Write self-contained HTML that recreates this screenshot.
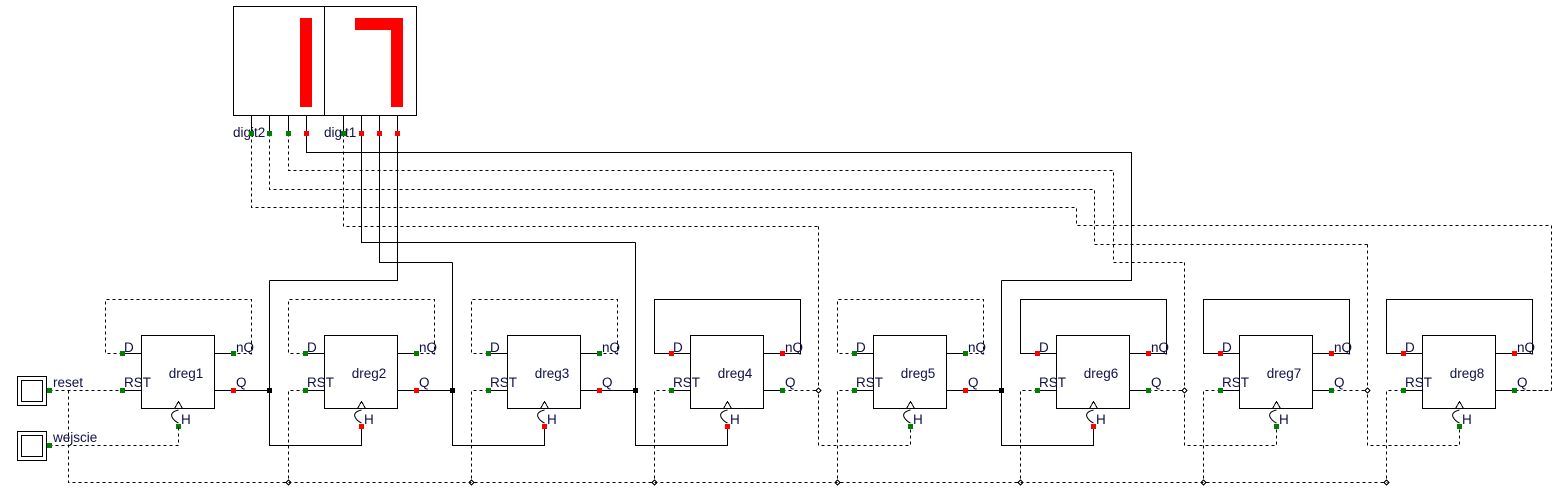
<!DOCTYPE html>
<html><head><meta charset="utf-8"><style>
html,body{margin:0;padding:0;background:#fff;}
svg{display:block;}
text{font-family:"Liberation Sans",sans-serif;font-size:13.5px;fill:#10104a;}
</style></head><body>
<svg id="s" width="1567" height="497" viewBox="0 0 1567 497" xmlns="http://www.w3.org/2000/svg">
<g id="g" fill="none" stroke="#000" stroke-width="1" shape-rendering="crispEdges"></g>
</svg>
<script>
(function(){
var g=document.getElementById('g');var NS="http://www.w3.org/2000/svg";
function el(t,a,txt){var e=document.createElementNS(NS,t);for(var k in a)e.setAttribute(k,a[k]);if(txt!==undefined)e.textContent=txt;g.appendChild(e);return e;}
function pl(pts,dash){var a={points:pts.map(function(p){return (p[0]+0.5)+','+(p[1]+0.5)}).join(' ')};if(dash)a['stroke-dasharray']='3,3';el('polyline',a);}
function pin(x,y,c){el('rect',{x:x-2,y:y-2,width:5,height:5,fill:c=='r'?'#ff0000':'#008000',stroke:'none'});}
function tx(x,y,s,anchor){var e=el('text',{x:x,y:y,stroke:'none'},s);if(anchor)e.setAttribute('text-anchor',anchor);}
function jd(x,y){el('rect',{x:x-2,y:y-2,width:5,height:5,fill:'#000',stroke:'none'});}
function jh(x,y){el('path',{d:'M'+(x+0.5)+' '+(y-2)+' l2.5 2.5 l-2.5 2.5 l-2.5 -2.5z',fill:'#fff'});}
el('rect',{x:233.5,y:6.5,width:183,height:109});
el('line',{x1:324.5,y1:6,x2:324.5,y2:115});
el('rect',{x:300,y:18,width:12,height:89,fill:'#ff0000',stroke:'none'});
el('rect',{x:355,y:18,width:48,height:12,fill:'#ff0000',stroke:'none'});
el('rect',{x:391,y:18,width:12,height:89,fill:'#ff0000',stroke:'none'});
tx(233,137,'digit2');tx(324,137,'digit1');
pl([[251,115],[251,131]]);pl([[269,115],[269,131]]);pl([[288,115],[288,131]]);pl([[306,115],[306,131]]);
pl([[343,115],[343,131]]);pl([[361,115],[361,131]]);pl([[379,115],[379,131]]);pl([[397,115],[397,131]]);
pl([[251,133],[251,207],[1076,207],[1076,225],[1551,225],[1551,390],[1515,390]],1);
pl([[269,133],[269,189],[1094,189],[1094,244],[1368,244]],1);
pl([[288,133],[288,170],[1113,170],[1113,262],[1185,262]],1);
pl([[306,133],[306,152],[1131,152],[1131,280],[1001,280]]);
pl([[343,133],[343,226],[818,226]],1);
pl([[361,133],[361,242],[635,242]]);
pl([[379,133],[379,262],[452,262]]);
pl([[397,133],[397,280],[269,280]]);
var P=[['g','g','g','r','g'],['g','g','g','r','r'],['g','g','g','r','r'],['r','r','g','g','r'],['g','g','g','r','g'],['r','r','g','g','r'],['r','r','g','g','g'],['r','r','g','g','g']];
var TOPY=[0,280,262,242,226,280,262,244,0];
for(var n=0;n<8;n++){
 var x0=141+183*n,p=P[n];
 el('rect',{x:x0+0.5,y:335.5,width:73,height:73});
 pl([[x0-19,353],[x0,353]]);pl([[x0+73,353],[x0+92,353]]);
 pl([[x0-19,390],[x0,390]]);pl([[x0+73,390],[x0+92,390]]);
 el('path',{d:'M'+(x0+33.5)+' 408.5 L'+(x0+37.5)+' 401.5 L'+(x0+41.5)+' 408.5'});
 el('path',{d:'M'+(x0+37.5)+' 410 Q'+(x0+29)+' 412 '+(x0+31)+' 417 Q'+(x0+33)+' 421 '+(x0+37.5)+' 423',fill:'none','shape-rendering':'auto'});
 pl([[x0-19,353],[x0-36,353],[x0-36,299],[x0+110,299],[x0+110,353],[x0+92,353]],p[0]=='g');
 tx(x0-17,352,'D');tx(x0+95,352,'nQ');tx(x0-17,387,'RST');tx(x0+95,387,'Q');tx(x0+45,378,'dreg'+(n+1),'middle');tx(x0+40,424,'H');
 var sol=p[3]=='r';var jx=x0+128;
 if(n<7){
  pl([[x0+92,390],[jx,390]],!sol);
  pl([[jx,TOPY[n+1]],[jx,445],[x0+183+37,445],[x0+183+37,427]],!sol);
  if(sol)jd(jx,390);else jh(jx,390);
 } else {pl([[x0+92,390],[1551,390]],1);}
 if(n>0){pl([[x0-19,390],[x0-36,390],[x0-36,482]],1);jh(x0-36,482);}
 pin(x0-19,353,p[0]);pin(x0+92,353,p[1]);pin(x0-19,390,p[2]);pin(x0+92,390,p[3]);pin(x0+37,426,p[4]);
}
el('rect',{x:17.5,y:376.5,width:29,height:29});el('rect',{x:21.5,y:380.5,width:21,height:21});
el('rect',{x:17.5,y:431.5,width:29,height:29});el('rect',{x:21.5,y:435.5,width:21,height:21});
tx(53,387,'reset');tx(53,442,'wejscie');
pl([[49,390],[122,390]],1);pl([[68,390],[68,482],[1387,482]],1);
pl([[49,445],[178,445],[178,427]],1);
pin(49,390,'g');pin(49,445,'g');pin(122,390,'g');
pin(251,133,'g');pin(269,133,'g');pin(288,133,'g');pin(306,133,'r');
pin(343,133,'g');pin(361,133,'r');pin(379,133,'r');pin(397,133,'r');
})();
</script>
</body></html>
